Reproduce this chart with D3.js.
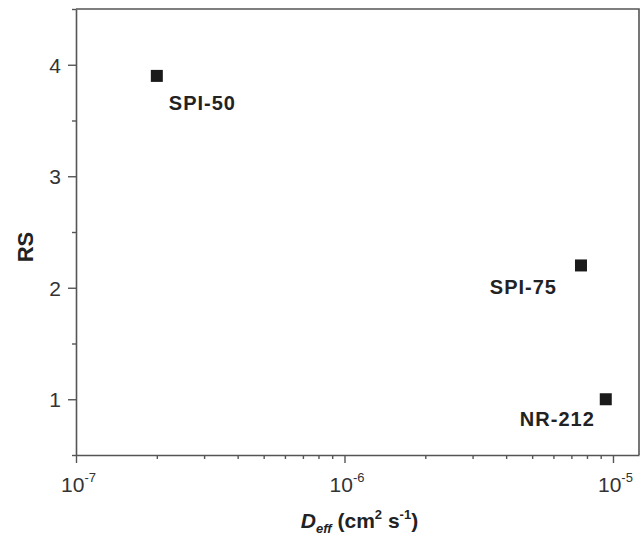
<!DOCTYPE html>
<html>
<head>
<meta charset="utf-8">
<script src="https://cdn.jsdelivr.net/npm/d3@7"></script>
<style>
  html, body { margin: 0; padding: 0; background: #fff; }
  svg { display: block; font-family: "Liberation Sans", Arial, Helvetica, sans-serif; }
</style>
</head>
<body>
<svg id="chart" width="642" height="544"></svg>
<script>
// ---- data ----
const samples = ["SPI-50", "SPI-75", "NR-212"];
const deff = [2.0e-7, 7.6e-6, 9.4e-6];
const rs = [3.9, 2.2, 1.0];
const xMajorTicks = [1e-7, 1e-6, 1e-5];
const xMajorExponents = ["-7", "-6", "-5"];
const yMajorTicks = [1, 2, 3, 4];
const yMinorTicks = [0.5, 1.5, 2.5, 3.5, 4.5];

// ---- layout / style ----
const W = 642, H = 544;
const plot = { left: 76, right: 639, top: 9, bottom: 455 };
const axisColor = "#555";
const textColor = "#333";
const labelStyle = [
  { dx: 12, dy: 34, anchor: "start" },
  { dx: -24, dy: 29, anchor: "end" },
  { dx: -11, dy: 27, anchor: "end" }
];

const svg = d3.select("#chart");

const x = d3.scaleLog().domain([1e-7, 1.25e-5]).range([plot.left, plot.right]);
const y = d3.scaleLinear().domain([0.5, 4.5]).range([plot.bottom, plot.top]);

// minor x ticks: 2..9 times each decade within domain
const xMinorTicks = [];
[1e-7, 1e-6, 1e-5].forEach(d => {
  for (let k = 2; k <= 9; k++) {
    const v = d * k;
    if (v <= x.domain()[1]) xMinorTicks.push(v);
  }
});

// frame (top & right)
svg.append("path")
  .attr("d", `M${plot.left},${plot.top}H${plot.right}V${plot.bottom}`)
  .attr("fill", "none").attr("stroke", axisColor).attr("stroke-width", 1.6);

// x axis minor
const gxMinor = svg.append("g")
  .attr("transform", `translate(0,${plot.bottom})`)
  .call(d3.axisBottom(x).tickValues(xMinorTicks).tickSize(4).tickFormat(""));
// x axis major
const gx = svg.append("g")
  .attr("transform", `translate(0,${plot.bottom})`)
  .call(d3.axisBottom(x).tickValues(xMajorTicks).tickSize(8).tickSizeOuter(0).tickFormat(""));

// y axis minor
const gyMinor = svg.append("g")
  .attr("transform", `translate(${plot.left},0)`)
  .call(d3.axisLeft(y).tickValues(yMinorTicks).tickSize(4).tickFormat(""));
// y axis major
const gy = svg.append("g")
  .attr("transform", `translate(${plot.left},0)`)
  .call(d3.axisLeft(y).tickValues(yMajorTicks).tickSize(8).tickSizeOuter(0).tickPadding(7).tickFormat(d3.format("d")));

[gxMinor, gx, gyMinor, gy].forEach(g => {
  g.select(".domain").attr("stroke", axisColor).attr("stroke-width", 1.6);
  g.selectAll(".tick line").attr("stroke", axisColor).attr("stroke-width", 1.4);
});
gxMinor.select(".domain").remove();
gyMinor.select(".domain").remove();

gy.selectAll(".tick text")
  .attr("fill", textColor)
  .attr("dy", "0.36em")
  .style("font-size", "21px");

// x tick labels with superscripts
gx.selectAll(".tick").each(function(d, i) {
  const t = d3.select(this).append("text")
    .attr("y", 37)
    .attr("x", 2)
    .attr("text-anchor", "middle")
    .attr("fill", textColor)
    .style("font-size", "21px");
  t.append("tspan").text("10");
  t.append("tspan").attr("dy", -10).style("font-size", "13px").text(xMajorExponents[i]);
});

// markers
const ms = 12;
svg.append("g").selectAll("rect")
  .data(samples)
  .join("rect")
  .attr("x", (d, i) => x(deff[i]) - ms / 2)
  .attr("y", (d, i) => y(rs[i]) - ms / 2)
  .attr("width", ms).attr("height", ms)
  .attr("fill", "#1a1a1a");

// point labels
svg.append("g").selectAll("text")
  .data(samples)
  .join("text")
  .attr("x", (d, i) => x(deff[i]) + labelStyle[i].dx)
  .attr("y", (d, i) => y(rs[i]) + labelStyle[i].dy)
  .attr("text-anchor", (d, i) => labelStyle[i].anchor)
  .attr("fill", "#222")
  .style("font-size", "20px")
  .style("font-weight", "bold")
  .style("letter-spacing", "1px")
  .text(d => d);

// y axis title
svg.append("text")
  .attr("transform", `translate(33,247) rotate(-90)`)
  .attr("text-anchor", "middle")
  .attr("fill", "#222")
  .style("font-size", "22px")
  .style("font-weight", "bold")
  .text("RS");

// x axis title
const xt = svg.append("text")
  .attr("x", (plot.left + plot.right) / 2 + 2)
  .attr("y", 528)
  .attr("text-anchor", "middle")
  .attr("fill", "#222")
  .style("font-size", "21px")
  .style("font-weight", "bold");
xt.append("tspan").style("font-style", "italic").text("D");
xt.append("tspan").attr("dy", 5).style("font-size", "13px").style("font-style", "italic").text("eff");
xt.append("tspan").attr("dy", -5).text(" (cm");
xt.append("tspan").attr("dy", -9).style("font-size", "13px").text("2");
xt.append("tspan").attr("dy", 9).text(" s");
xt.append("tspan").attr("dy", -9).style("font-size", "13px").text("-1");
xt.append("tspan").attr("dy", 9).text(")");
</script>
</body>
</html>
